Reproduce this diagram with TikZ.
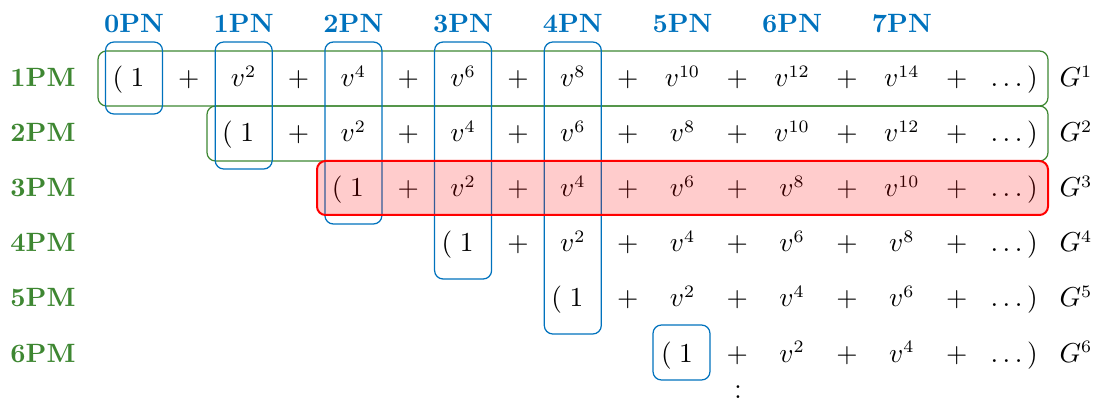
\documentclass[tikz,border=0pt]{standalone}
\definecolor{pnblue}{RGB}{0,114,189}
\definecolor{pmgreen}{RGB}{62,135,50}
\newcommand{\picfont}{\fontsize{10.6}{12.7}\selectfont}
\begin{document}
\begin{tikzpicture}[x=0.4pt,y=-0.4pt, font=\picfont,
  term/.style={anchor=base, inner sep=0pt},
  termw/.style={anchor=base west, inner sep=0pt},
  pnlabel/.style={text=pnblue, font=\picfont\bfseries, anchor=base, inner sep=0pt},
  pmlabel/.style={text=pmgreen, font=\picfont\bfseries, anchor=base west, inner sep=0pt},
  bluebox/.style={draw=pnblue, line width=0.5pt, rounded corners=3.4pt},
  greenbox/.style={draw=pmgreen, line width=0.5pt, rounded corners=3.4pt},
  redbox/.style={draw=red, line width=0.8pt, fill=red, fill opacity=0.2, rounded corners=3.4pt}]
\useasboundingbox (0,0) rectangle (1095,399);
\clip (0,0) rectangle (1095,399);
% green boxes
\draw[greenbox] (98,51) rectangle (1048,106);
\draw[greenbox] (207,106) rectangle (1048,161);
% blue boxes
\foreach \k in {0,...,4} {
  \pgfmathsetmacro\cx{134+109.7*\k}
  \pgfmathsetmacro\yb{114+55*\k}
  \draw[bluebox] (\cx-28.5,42) rectangle (\cx+28.5,\yb);
}
\draw[bluebox] (653,325) rectangle (710,380);
% PN labels
\foreach \k in {0,...,7} {
  \pgfmathsetmacro\cx{134+109.7*\k}
  \node[pnlabel] (pn\k) at (\cx,33) {\k PN};
}
% rows
\foreach \r in {1,...,6} {
  \pgfmathtruncatemacro\yy{87+55*(\r-1)}
  \pgfmathtruncatemacro\s{\r-1}
  \node[pmlabel] (pm\r) at (10,\yy) {\r PM};
  \foreach \k in {\s,...,7} {
    \pgfmathsetmacro\cx{134+109.7*\k}
    \pgfmathsetmacro\px{134+109.7*\k+54.85}
    \pgfmathtruncatemacro\e{2*(\k-\s)}
    \ifnum\k=\s
      \node[termw] (t\r-\k) at (\cx-22,\yy) {$(\;1$};
    \else
      \node[term] (t\r-\k) at (\cx,\yy) {$v^{\e}$};
    \fi
    \node[term] (p\r-\k) at (\px,\yy) {$+$};
  }
  \node[termw] (end\r) at (990,\yy) {$\ldots\,)$};
  \node[termw] (g\r) at (1059,\yy) {$G^{\r}$};
}
\node[anchor=north, inner sep=0pt] (vd) at (738,370) {$\vdots$};
% red box on top
\draw[redbox] (317,161) rectangle (1048,215);
\end{tikzpicture}
\end{document}
